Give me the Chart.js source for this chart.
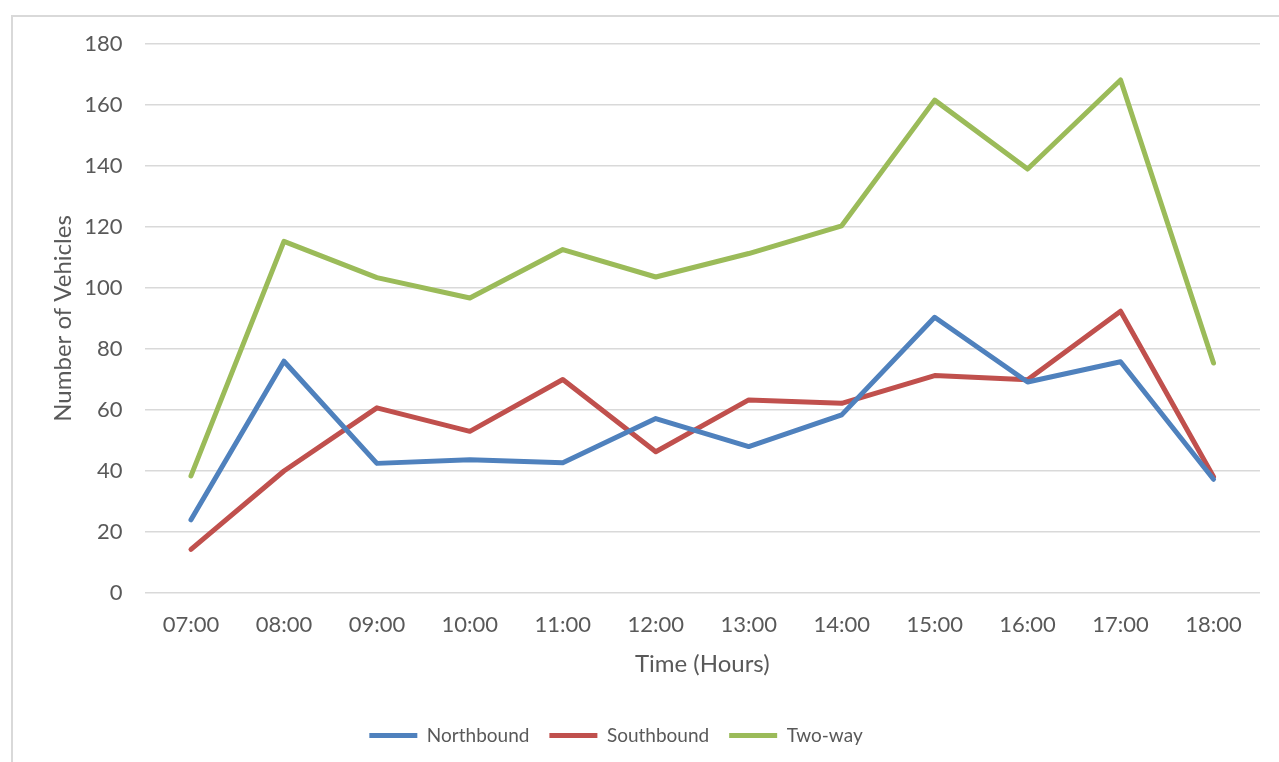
<!DOCTYPE html>
<html>
<head>
<meta charset="utf-8">
<script src="https://cdn.jsdelivr.net/npm/chart.js@4/dist/chart.umd.min.js"></script>
<style>
  html, body { margin: 0; padding: 0; background: #fff; }
  #frame {
    position: absolute; left: 11px; top: 15px; width: 1400px; height: 900px;
    border-left: 2px solid #d9d9d9; border-top: 2px solid #d9d9d9;
    pointer-events: none;
  }
  #wrap { position: absolute; left: 0; top: 0; width: 1279px; height: 762px; }
</style>
</head>
<body>
<div id="frame"></div>
<div id="wrap"><canvas id="chart1"></canvas></div>
<script>
// traffic counts by hour

const hours = ["07:00", "08:00", "09:00", "10:00", "11:00", "12:00",
               "13:00", "14:00", "15:00", "16:00", "17:00", "18:00"];

const northbound = [24, 76, 42.5, 43.7, 42.7, 57.2, 48, 58.4, 90.4, 69.2, 75.8, 37.3];
const southbound = [14.3, 40, 60.7, 53, 70, 46.3, 63.3, 62.2, 71.3, 69.9, 92.4, 38.1];
const twoWay = [38.4, 115.3, 103.4, 96.7, 112.6, 103.6, 111.3, 120.4, 161.6, 139, 168.2, 75.4];

const yTicks = [0, 20, 40, 60, 80, 100, 120, 140, 160, 180];

const textColor = "#595959";
const gridColor = "#d9d9d9";
const fontFamily = "Lato, 'Open Sans', sans-serif";

function lineSet(label, data, color) {
  return {
    label: label,
    data: data,
    borderColor: color,
    backgroundColor: color,
    borderWidth: 5,
    borderCapStyle: "round",
    borderJoinStyle: "round",
    pointRadius: 0,
    pointHoverRadius: 0,
    pointStyle: "line",
    tension: 0,
    fill: false
  };
}

// the legend in the original sits a little left of centre
const legendShift = {
  id: "legendShift",
  afterLayout(chart) {
    if (chart.legend) {
      chart.legend.left -= 20;
      chart.legend.right -= 20;
    }
  }
};

const ctx = document.getElementById("chart1").getContext("2d");

new Chart(ctx, {
  type: "line",
  data: {
    labels: hours,
    datasets: [
      lineSet("Northbound", northbound, "#4F81BD"),
      lineSet("Southbound", southbound, "#C0504D"),
      lineSet("Two-way", twoWay, "#9BBB59")
    ]
  },
  plugins: [legendShift],
  options: {
    responsive: true,
    maintainAspectRatio: false,
    animation: false,
    layout: { padding: { left: 12, right: 19, top: 44, bottom: 7 } },
    scales: {
      x: {
        offset: true,
        grid: { display: false, drawTicks: false },
        border: { display: false },
        ticks: { color: textColor, font: { family: fontFamily, size: 22 }, padding: 19, maxRotation: 0 },
        title: {
          display: true, text: "Time (Hours)", color: textColor,
          font: { family: fontFamily, size: 24 }, padding: { top: 10, bottom: 27 }
        },
        afterFit: function (scale) { scale.height = 113; }
      },
      y: {
        min: 0,
        max: 180,
        afterBuildTicks: function (scale) { scale.ticks = yTicks.map(v => ({ value: v })); },
        grid: { color: gridColor, lineWidth: 1.5, drawTicks: false },
        border: { display: false },
        ticks: { color: textColor, font: { family: fontFamily, size: 22 }, padding: 22 },
        title: {
          display: true, text: "Number of Vehicles", color: textColor,
          font: { family: fontFamily, size: 24 }, padding: { top: 37, bottom: 0 }
        },
        afterFit: function (scale) { scale.width = 132.5; }
      }
    },
    plugins: {
      legend: {
        position: "bottom",
        labels: {
          color: textColor,
          font: { family: fontFamily, size: 19 },
          usePointStyle: true,
          pointStyleWidth: 48,
          boxHeight: 5,
          padding: 20
        }
      },
      tooltip: { enabled: false }
    }
  }
});
</script>
</body>
</html>
